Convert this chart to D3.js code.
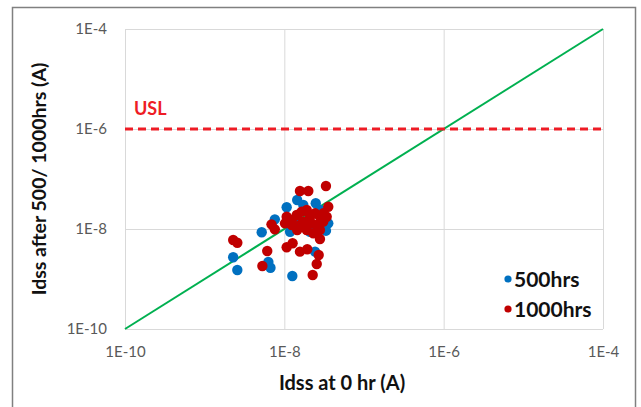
<!DOCTYPE html>
<html>
<head>
<meta charset="utf-8">
<script src="https://cdn.jsdelivr.net/npm/d3@7"></script>
<style>
  html, body { margin: 0; padding: 0; background: #fff; }
  svg { display: block; }
  text { font-family: Lato, "Open Sans", "Liberation Sans", sans-serif; }
</style>
</head>
<body>
<svg id="chart" width="641" height="407"></svg>
<script>
// Leakage current Idss before (x) and after stress (y), in amperes
const hrs500X = [1.07e-8, 1.45e-8, 2.48e-8, 7.6e-9, 5.2e-9, 2.28e-9, 2.57e-9, 6.3e-9, 6.7e-9,
                 1.26e-8, 2.43e-8, 3.56e-8, 3.33e-8, 1.18e-8, 1.73e-8, 2.10e-8, 2.80e-8, 1.50e-8];
const hrs500Y = [2.72e-8, 3.80e-8, 3.27e-8, 1.56e-8, 8.59e-9, 2.72e-9, 1.51e-9, 2.19e-9, 1.68e-9,
                 1.15e-9, 3.52e-9, 1.30e-8, 9.25e-9, 8.83e-9, 3.02e-8, 8.83e-9, 2.40e-8, 1.51e-8];

const hrs1000X = [3.33e-8, 1.57e-8, 2.0e-8, 2.28e-9, 2.57e-9, 6.9e-9, 7.6e-9, 6.1e-9, 5.3e-9,
                  1.07e-8, 1.27e-8, 1.57e-8, 1.94e-8, 2.70e-8, 2.55e-8, 2.27e-8, 1.45e-8, 2.80e-8,
                  3.56e-8, 1.07e-8, 1.24e-8, 1.43e-8, 1.65e-8, 1.91e-8, 2.10e-8, 2.43e-8, 2.80e-8,
                  3.08e-8, 1.73e-8, 2.20e-8, 2.55e-8, 2.80e-8, 1.57e-8, 1.24e-8, 1.02e-8, 1.91e-8,
                  2.31e-8, 3.08e-8, 3.40e-8];
const hrs1000Y = [7.24e-8, 5.75e-8, 5.75e-8, 6.03e-9, 5.32e-9, 1.24e-8, 9.86e-9, 3.63e-9, 1.82e-9,
                  4.31e-9, 5.18e-9, 3.52e-9, 3.93e-9, 3.02e-9, 2.0e-9, 1.20e-9, 9.55e-9, 6.31e-9,
                  2.79e-8, 1.76e-8, 1.51e-8, 1.91e-8, 2.22e-8, 2.40e-8, 1.76e-8, 2.06e-8, 1.76e-8,
                  2.06e-8, 1.40e-8, 1.30e-8, 1.20e-8, 9.55e-9, 1.20e-8, 1.20e-8, 1.30e-8, 9.55e-9,
                  8.20e-9, 1.40e-8, 1.76e-8];

const axisTicks = [1e-10, 1e-8, 1e-6, 1e-4];
const axisDomain = [1e-10, 1e-4];
const uslValue = 1e-6;
const seriesNames = ["500hrs", "1000hrs"];
const seriesColors = ["#0070c0", "#c00000"];

const svg = d3.select("#chart");

// outer chart frame
svg.append("rect")
  .attr("x", 12.5).attr("y", 7.5).attr("width", 623).attr("height", 420)
  .attr("fill", "#fff").attr("stroke", "#808080").attr("stroke-width", 1.5);

const x = d3.scaleLog().domain(axisDomain).range([125, 603]);
const y = d3.scaleLog().domain(axisDomain).range([329, 29]);
const fmt = d => "1E" + Math.round(Math.log10(d));

// axes with full-length gridlines
const gx = svg.append("g").attr("transform", "translate(0,329)")
  .call(d3.axisBottom(x).tickValues(axisTicks).tickFormat(fmt)
    .tickSize(-300).tickPadding(17));
const gy = svg.append("g").attr("transform", "translate(125,0)")
  .call(d3.axisLeft(y).tickValues(axisTicks).tickFormat(fmt)
    .tickSize(-478).tickPadding(18));

[gx, gy].forEach(g => {
  g.select(".domain").remove();
  g.selectAll(".tick line").attr("stroke", "#d9d9d9").attr("stroke-width", 1);
  g.selectAll(".tick text").attr("fill", "#595959").style("font-size", "15px");
});

// 1:1 reference line
svg.append("line")
  .attr("x1", x(axisDomain[0])).attr("y1", y(axisDomain[0]))
  .attr("x2", x(axisDomain[1])).attr("y2", y(axisDomain[1]))
  .attr("stroke", "#00b050").attr("stroke-width", 2);

// upper spec limit
svg.append("line")
  .attr("x1", x(axisDomain[0])).attr("x2", x(axisDomain[1]))
  .attr("y1", y(uslValue)).attr("y2", y(uslValue))
  .attr("stroke", "#ee1c25").attr("stroke-width", 3)
  .attr("stroke-dasharray", "8,5");
svg.append("text")
  .attr("x", 134).attr("y", y(uslValue) - 14)
  .attr("fill", "#ee1c25").style("font-size", "18px").style("font-weight", "bold")
  .text("USL");

// scatter series
const series = [
  hrs500X.map((v, i) => [v, hrs500Y[i]]),
  hrs1000X.map((v, i) => [v, hrs1000Y[i]])
];
series.forEach((pts, si) => {
  svg.append("g").selectAll("circle").data(pts).join("circle")
    .attr("cx", d => x(d[0])).attr("cy", d => y(d[1]))
    .attr("r", 5.2).attr("fill", seriesColors[si]);
});

// legend
const legend = svg.append("g");
seriesNames.forEach((name, i) => {
  const ly = 279 + i * 30;
  legend.append("circle").attr("cx", 508).attr("cy", ly).attr("r", 3.6)
    .attr("fill", seriesColors[i]);
  legend.append("text").attr("x", 514).attr("y", ly).attr("dy", "0.36em")
    .style("font-size", "21px").style("font-weight", "bold").attr("fill", "#111")
    .text(name);
});

// axis titles
svg.append("text")
  .attr("x", 342).attr("y", 390).attr("text-anchor", "middle")
  .style("font-size", "20px").style("font-weight", "bold").attr("fill", "#111")
  .text("Idss at 0 hr (A)");
svg.append("text")
  .attr("transform", "translate(46,179) rotate(-90)").attr("text-anchor", "middle")
  .style("font-size", "19.5px").style("font-weight", "bold").attr("fill", "#111")
  .text("Idss after 500/ 1000hrs (A)");
</script>
</body>
</html>
